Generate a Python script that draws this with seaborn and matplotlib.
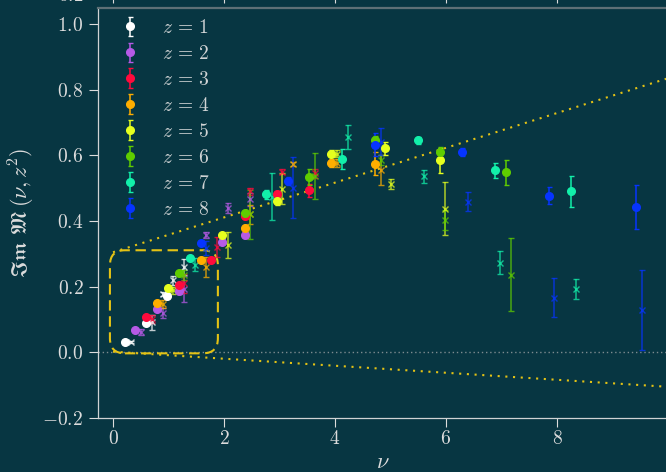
import matplotlib
matplotlib.use("Agg")
import matplotlib.pyplot as plt
import seaborn as sns
import numpy as np
import pandas as pd
from matplotlib.patches import FancyBboxPatch
from matplotlib.ticker import FuncFormatter, FixedLocator

# ---- data -------------------------------------------------------------
z_values = [1, 2, 3, 4, 5, 6, 7, 8]
z_colors = ["#ffffff", "#b65ae6", "#ff0a3c", "#ffae00",
            "#e6ff1e", "#5fcc00", "#12f0aa", "#0634ff"]

# filled circles: nu, Im M, error (one list per z)
circ_nu = [
    [0.21, 0.60, 0.98],
    [0.40, 0.80, 1.19, 1.97, 2.37],
    [0.60, 1.19, 1.77, 2.37, 2.95, 3.54],
    [0.80, 1.58, 2.37, 3.93, 4.72],
    [0.985, 1.97, 2.95, 3.93, 4.91, 5.89],
    [1.19, 2.37, 3.54, 4.72, 5.89, 7.08],
    [1.39, 2.76, 4.13, 5.50, 6.88, 8.25],
    [1.58, 3.15, 4.72, 6.29, 7.86, 9.43],
]
circ_val = [
    [0.031, 0.089, 0.172],
    [0.067, 0.133, 0.187, 0.337, 0.357],
    [0.108, 0.204, 0.282, 0.416, 0.481, 0.494],
    [0.149, 0.281, 0.378, 0.578, 0.575],
    [0.196, 0.356, 0.461, 0.605, 0.621, 0.585],
    [0.241, 0.423, 0.535, 0.646, 0.611, 0.548],
    [0.288, 0.481, 0.590, 0.646, 0.555, 0.491],
    [0.333, 0.523, 0.633, 0.609, 0.477, 0.443],
]
circ_err = [
    [0.004, 0.005, 0.006],
    [0.005, 0.006, 0.008, 0.008, 0.010],
    [0.005, 0.006, 0.007, 0.010, 0.012, 0.020],
    [0.005, 0.007, 0.010, 0.012, 0.035],
    [0.006, 0.008, 0.012, 0.010, 0.019, 0.038],
    [0.006, 0.010, 0.025, 0.012, 0.015, 0.039],
    [0.006, 0.015, 0.030, 0.010, 0.023, 0.047],
    [0.006, 0.012, 0.034, 0.012, 0.026, 0.067],
]

# crosses: second determination, shown slightly shifted in nu
cross_nu = [
    [0.32, 0.70, 0.90, 1.09, 1.28],
    [0.50, 0.90, 1.28, 1.68, 2.07, 2.47],
    [0.70, 1.28, 1.87, 2.47, 3.05, 3.64],
    [0.90, 1.68, 2.47, 3.25, 4.03, 4.82],
    [1.09, 2.07, 3.05, 4.03, 5.01, 5.99],
    [1.28, 2.47, 3.64, 4.82, 5.99, 7.17],
    [1.48, 2.86, 4.23, 5.60, 6.97, 8.35],
    [1.68, 3.25, 4.82, 6.39, 7.95, 9.53],
]
cross_val = [
    [0.031, 0.092, 0.177, 0.219, 0.260],
    [0.062, 0.121, 0.194, 0.357, 0.440, 0.466],
    [0.102, 0.210, 0.321, 0.490, 0.550, 0.545],
    [0.146, 0.260, 0.420, 0.573, 0.576, 0.555],
    [0.189, 0.326, 0.499, 0.605, 0.514, 0.438],
    [0.235, 0.420, 0.537, 0.585, 0.404, 0.237],
    [0.267, 0.474, 0.657, 0.537, 0.273, 0.192],
    [0.318, 0.502, 0.641, 0.459, 0.167, 0.130],
]
cross_err = [
    [0.004, 0.023, 0.006, 0.014, 0.025],
    [0.008, 0.015, 0.040, 0.010, 0.015, 0.020],
    [0.012, 0.030, 0.030, 0.012, 0.008, 0.015],
    [0.012, 0.030, 0.030, 0.006, 0.012, 0.045],
    [0.010, 0.040, 0.048, 0.010, 0.015, 0.080],
    [0.015, 0.075, 0.070, 0.015, 0.030, 0.110],
    [0.020, 0.072, 0.037, 0.020, 0.035, 0.030],
    [0.020, 0.093, 0.041, 0.028, 0.058, 0.122],
]

# bounding lines and highlighted region
bound_nu = [0.0, 10.0]
bound_upper = [0.305, 0.835]
bound_lower = [0.002, -0.105]
region = [-0.055, 1.89, -0.003, 0.311]   # x0, x1, y0, y1

x_ticks = [0, 2, 4, 6, 8]
y_ticks = [-0.2, 0.0, 0.2, 0.4, 0.6, 0.8, 1.0]

# ---- style ------------------------------------------------------------
BG = "#073642"
FG = "#dcdcdc"
GOLD = "#e3c215"

sns.set_theme(style="ticks", rc={
    "figure.facecolor": BG,
    "axes.facecolor": BG,
    "savefig.facecolor": BG,
    "axes.edgecolor": FG,
    "axes.labelcolor": FG,
    "xtick.color": FG,
    "ytick.color": FG,
    "text.color": FG,
    "mathtext.fontset": "cm",
})
plt.rcParams["font.family"] = ["DejaVu Serif"]

W, H = 666, 472
fig = plt.figure(figsize=(W / 100, H / 100), dpi=100)

# main axes: spans past the right edge of the canvas
left, bottom, top, right = 98, 418, 8, 668
ax = fig.add_axes([left / W, (H - bottom) / H, (right - left) / W, (bottom - top) / H])
ax.set_xlim(-0.27, 10.0)
ax.set_ylim(-0.2, 1.049)

# panel above (only its lower edge falls inside the canvas)
ax_up = fig.add_axes([left / W, (H + 6) / H, (right - left) / W, 0.4], sharex=ax)
ax_up.set_facecolor(BG)
ax_up.set_ylim(0.2, 1.0)
ax_up.yaxis.set_major_locator(FixedLocator([0.2]))
ax_up.tick_params(axis="both", direction="out", length=6.5, width=0.8,
                  labelsize=14, labelbottom=False, pad=4)
ax_up.yaxis.set_major_formatter(FuncFormatter(lambda v, p: f"${v:.1f}$"))

# reference lines
ax.axhline(0.0, color="#7d8b8f", lw=1.0, ls=(0, (1, 2)), zorder=1)
bounds = pd.DataFrame({"nu": bound_nu * 2,
                       "val": bound_upper + bound_lower,
                       "which": ["upper"] * 2 + ["lower"] * 2})
sns.lineplot(data=bounds, x="nu", y="val", units="which", estimator=None,
             color=GOLD, lw=1.5, ls=(0, (1, 2.7)), ax=ax, zorder=2)

# highlighted low-nu region with rounded corners
px_x = ax.transData.transform((1, 0))[0] - ax.transData.transform((0, 0))[0]
px_y = ax.transData.transform((0, 1))[1] - ax.transData.transform((0, 0))[1]
box = FancyBboxPatch((region[0], region[2]), region[1] - region[0], region[3] - region[2],
                     boxstyle="round,pad=0,rounding_size=0.27",
                     mutation_aspect=px_x / px_y,
                     fill=False, ec=GOLD, lw=1.5, ls=(0, (5, 2.7)), zorder=2)
ax.add_patch(box)

handles = []
for i, z in enumerate(z_values):
    c = z_colors[i]
    ax.errorbar(cross_nu[i], cross_val[i], yerr=cross_err[i], fmt="x", color=c,
                ms=4, mew=1.0, elinewidth=1.1, capsize=2.2, capthick=1.0,
                alpha=0.75, zorder=3)
for i, z in enumerate(z_values):
    c = z_colors[i]
    h = ax.errorbar(circ_nu[i], circ_val[i], yerr=circ_err[i], fmt="o", color=c,
                    ms=5.5, elinewidth=1.1, capsize=1.8, capthick=1.0,
                    zorder=4, label=f"$z\\,=\\,{z}$")
    handles.append(h)

ax.xaxis.set_major_locator(FixedLocator(x_ticks))
ax.yaxis.set_major_locator(FixedLocator(y_ticks))
ax.xaxis.set_major_formatter(FuncFormatter(lambda v, p: f"${int(round(v))}$"))
ax.yaxis.set_major_formatter(FuncFormatter(lambda v, p: f"${v:.1f}$"))
ax.tick_params(axis="both", direction="out", length=6.5, width=0.8, labelsize=14)
ax.tick_params(axis="y", pad=4)
ax.tick_params(axis="x", pad=2.5)

for s in ("left", "bottom"):
    ax.spines[s].set_color("#cfd3d4")
    ax.spines[s].set_linewidth(0.9)
ax.spines["top"].set_color("#5e7076")
ax.spines["top"].set_linewidth(1.6)
ax.spines["right"].set_visible(False)
for s in ("top", "right", "left"):
    ax_up.spines[s].set_visible(False)
ax_up.spines["bottom"].set_color("#5e7076")

ax.set_xlabel(r"$\nu$", fontsize=16, labelpad=2)
ax.set_ylabel(r"$\mathfrak{Im}\ \mathfrak{M}\,(\nu, z^2)$", fontsize=16, labelpad=4)

ax.legend(handles=handles, loc="upper left", bbox_to_anchor=(0.031, 0.973),
          frameon=False, fontsize=14, labelcolor="#d0d4d5", handlelength=1.5,
          handletextpad=0.9, labelspacing=0.41, borderaxespad=0, borderpad=0)

fig.savefig("out.png", dpi=100, facecolor=BG)
